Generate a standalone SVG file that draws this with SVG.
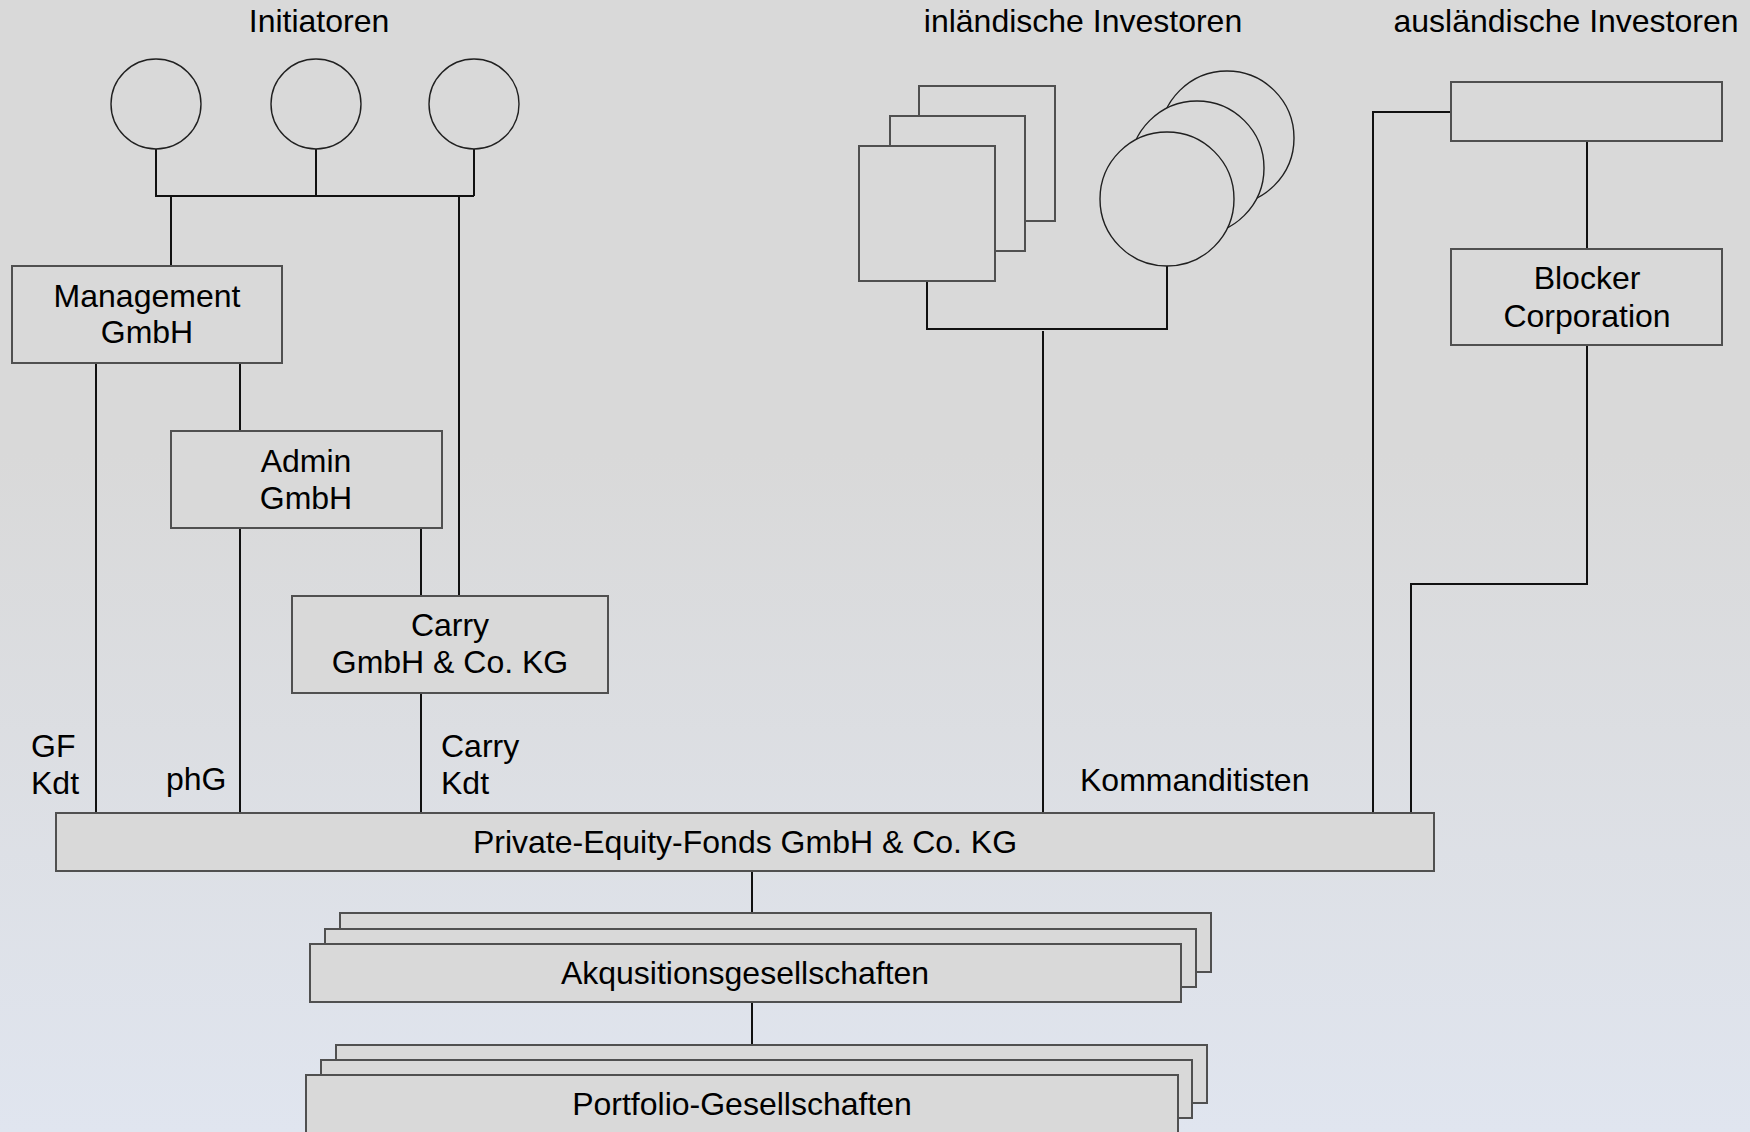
<svg xmlns="http://www.w3.org/2000/svg" width="1750" height="1132" viewBox="0 0 1750 1132">
<defs>
<linearGradient id="bg" x1="0" y1="0" x2="0" y2="1">
<stop offset="0" stop-color="#d9d9d9"/>
<stop offset="0.4" stop-color="#d9d9d9"/>
<stop offset="1" stop-color="#e0e5ef"/>
</linearGradient>
</defs>
<style>
text{font-family:"Liberation Sans",Arial,sans-serif;font-size:32px;fill:#000}
.c{text-anchor:middle}
.box{fill:#d9d9d9;stroke:#505050;stroke-width:2}
.ell{fill:#d9d9d9;stroke:#202020;stroke-width:1.4}
.ln{fill:none;stroke:#111;stroke-width:2}
</style>
<rect x="0" y="0" width="1750" height="1132" fill="url(#bg)"/>

<g id="titles">
<text class="c" x="319" y="32">Initiatoren</text>
<text class="c" x="1083" y="32">inländische Investoren</text>
<text class="c" x="1566" y="32">ausländische Investoren</text>
</g>

<g id="connectors">
<path class="ln" d="M156 149V196M316 149V196M474 149V196M155 196H474"/>
<path class="ln" d="M171 196V266"/>
<path class="ln" d="M459 196V596"/>
<path class="ln" d="M96 363V813"/>
<path class="ln" d="M240 363V431"/>
<path class="ln" d="M240 528V813"/>
<path class="ln" d="M421 528V596"/>
<path class="ln" d="M421 693V813"/>
<path class="ln" d="M927 281V329H1167V266"/>
<path class="ln" d="M1043 331V813"/>
<path class="ln" d="M1587 141V249"/>
<path class="ln" d="M1587 345V584H1411V813"/>
<path class="ln" d="M1451 112H1373V813"/>
<path class="ln" d="M752 871V913"/>
<path class="ln" d="M752 1002V1045"/>
</g>

<g id="initiator1"><ellipse class="ell" cx="156" cy="104" rx="45" ry="45"/></g>
<g id="initiator2"><ellipse class="ell" cx="316" cy="104" rx="45" ry="45"/></g>
<g id="initiator3"><ellipse class="ell" cx="474" cy="104" rx="45" ry="45"/></g>

<g id="management">
<rect class="box" x="12" y="266" width="270" height="97"/>
<text class="c" x="147" y="307">Management</text>
<text class="c" x="147" y="343">GmbH</text>
</g>

<g id="admin">
<rect class="box" x="171" y="431" width="271" height="97"/>
<text class="c" x="306" y="472">Admin</text>
<text class="c" x="306" y="509">GmbH</text>
</g>

<g id="carry">
<rect class="box" x="292" y="596" width="316" height="97"/>
<text class="c" x="450" y="636">Carry</text>
<text class="c" x="450" y="673">GmbH &amp; Co. KG</text>
</g>

<g id="domestic-companies">
<rect class="box" x="919" y="86" width="136" height="135"/>
<rect class="box" x="890" y="116" width="135" height="135"/>
<rect class="box" x="859" y="146" width="136" height="135"/>
</g>

<g id="domestic-persons">
<circle class="ell" cx="1227" cy="138" r="67"/>
<circle class="ell" cx="1197" cy="168" r="67"/>
<circle class="ell" cx="1167" cy="199" r="67"/>
</g>

<g id="foreign-investor">
<rect class="box" x="1451" y="82" width="271" height="59"/>
</g>

<g id="blocker">
<rect class="box" x="1451" y="249" width="271" height="96"/>
<text class="c" x="1587" y="289">Blocker</text>
<text class="c" x="1587" y="327">Corporation</text>
</g>

<g id="labels">
<text x="31" y="757">GF</text>
<text x="31" y="794">Kdt</text>
<text x="166" y="790">phG</text>
<text x="441" y="757">Carry</text>
<text x="441" y="794">Kdt</text>
<text x="1080" y="791">Kommanditisten</text>
</g>

<g id="fund">
<rect class="box" x="56" y="813" width="1378" height="58"/>
<text class="c" x="745" y="853">Private-Equity-Fonds GmbH &amp; Co. KG</text>
</g>

<g id="akquisition">
<rect class="box" x="340" y="913" width="871" height="59"/>
<rect class="box" x="325" y="929" width="871" height="58"/>
<rect class="box" x="310" y="944" width="871" height="58"/>
<text class="c" x="745" y="984">Akqusitionsgesellschaften</text>
</g>

<g id="portfolio">
<rect class="box" x="336" y="1045" width="871" height="58"/>
<rect class="box" x="321" y="1060" width="871" height="58"/>
<rect class="box" x="306" y="1075" width="872" height="58"/>
<text class="c" x="742" y="1115">Portfolio-Gesellschaften</text>
</g>
</svg>
